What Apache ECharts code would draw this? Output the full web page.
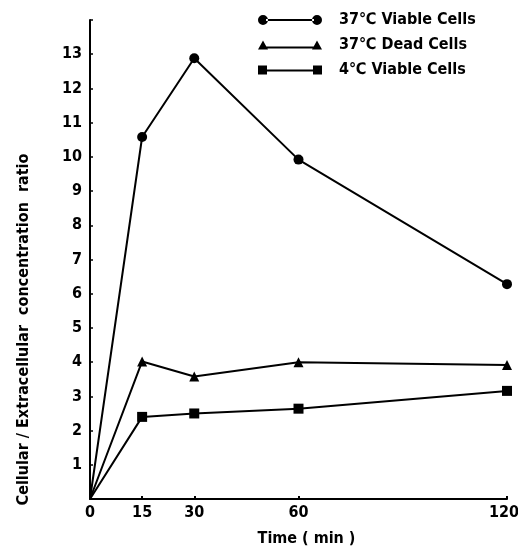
<!DOCTYPE html>
<html>
<head>
<meta charset="utf-8">
<script src="https://cdn.jsdelivr.net/npm/echarts@6/dist/echarts.min.js"></script>
<style>html,body{margin:0;padding:0;background:#fff}#c{width:518px;height:555px}</style>
</head>
<body>
<div id="c"></div>
<script>
var timePoints = [0, 15, 30, 60, 120];
var viable37 = [0, 10.58, 12.88, 9.92, 6.28];
var dead37 = [0, 4.02, 3.58, 4.0, 3.92];
var viable4 = [0, 2.40, 2.50, 2.64, 3.16];
var seriesNames = ['37\u2103 Viable Cells', '37\u2103 Dead Cells', '4\u2103 Viable Cells'];
var xTickValues = [0, 15, 30, 60, 120];
var yTickLabels = [1,2,3,4,5,6,7,8,9,10,11,12,13];

var FONT = "'Liberation Sans Narrow', 'DejaVu Sans Condensed', 'Liberation Sans', sans-serif";

var iconCircle = 'path://M0,5a5,5 0 1,0 10,0a5,5 0 1,0 -10,0Z M8,4L56,4L56,6L8,6Z M54,5a5,5 0 1,0 10,0a5,5 0 1,0 -10,0Z';
var iconTri = 'path://M0,10L5,1L10,10Z M8,7L56,7L56,9L8,9Z M54,10L59,1L64,10Z';
var iconSq = 'path://M0,1L9,1L9,10L0,10Z M8,5L56,5L56,7L8,7Z M55,1L64,1L64,10L55,10Z';

function build(vals) {
  return timePoints.map(function (t, i) {
    var d = { value: [t, vals[i]] };
    if (i === 0) d.symbol = 'none';
    return d;
  });
}

var chart = echarts.init(document.getElementById('c'));
chart.setOption({
  animation: false,
  backgroundColor: '#fff',
  textStyle: { fontFamily: FONT, fontWeight: 'bold', color: '#000' },
  grid: { left: 90, right: 11, top: 20, bottom: 56, outerBoundsMode: 'none' },
  legend: {
    orient: 'vertical',
    left: 253,
    top: 7,
    itemWidth: 64,
    itemHeight: 10,
    itemGap: 9,
    textStyle: { fontFamily: FONT, fontWeight: 'bold', fontSize: 16, color: '#000', padding: [0, 0, 0, 12] },
    data: [
      { name: seriesNames[0], icon: iconCircle },
      { name: seriesNames[1], icon: iconTri },
      { name: seriesNames[2], icon: iconSq }
    ],
    itemStyle: { color: '#000' },
    lineStyle: { opacity: 0 }
  },
  xAxis: {
    type: 'value',
    min: 0, max: 120,
    name: 'Time ( min )',
    nameLocation: 'middle',
    nameGap: 32,
    nameTextStyle: { fontFamily: FONT, fontWeight: 'bold', fontSize: 16, color: '#000', padding: [0, 0, 0, 16] },
    axisLine: { lineStyle: { color: '#000', width: 2 } },
    axisTick: { inside: true, length: 3, lineStyle: { color: '#000', width: 2 }, customValues: xTickValues },
    axisLabel: {
      customValues: xTickValues, fontFamily: FONT, fontWeight: 'bold', fontSize: 16, color: '#000', margin: 6,
      formatter: function (v) { return v === 120 ? '{r|120}' : String(v); },
      rich: { r: { fontFamily: FONT, fontWeight: 'bold', fontSize: 16, color: '#000', padding: [0, 6, 0, 0] } }
    },
    splitLine: { show: false }
  },
  yAxis: {
    type: 'value',
    min: 0, max: 14, interval: 1,
    name: 'Cellular / Extracellular  concentration  ratio',
    nameLocation: 'middle',
    nameGap: 58,
    nameTextStyle: { fontFamily: FONT, fontWeight: 'bold', fontSize: 16, color: '#000', padding: [0, 140, 0, 0] },
    axisLine: { lineStyle: { color: '#000', width: 2 } },
    axisTick: { inside: true, length: 3, lineStyle: { color: '#000', width: 1.5 } },
    axisLabel: {
      fontFamily: FONT, fontWeight: 'bold', fontSize: 16, color: '#000', margin: 8,
      formatter: function (v) { return yTickLabels.indexOf(v) >= 0 ? String(v) : ''; }
    },
    splitLine: { show: false }
  },
  series: [
    { name: seriesNames[0], type: 'line', data: build(viable37), symbol: 'circle', symbolSize: 10,
      lineStyle: { color: '#000', width: 2 }, itemStyle: { color: '#000' } },
    { name: seriesNames[1], type: 'line', data: build(dead37), symbol: 'triangle', symbolSize: 10,
      lineStyle: { color: '#000', width: 2 }, itemStyle: { color: '#000' } },
    { name: seriesNames[2], type: 'line', data: build(viable4), symbol: 'rect', symbolSize: 10,
      lineStyle: { color: '#000', width: 2 }, itemStyle: { color: '#000' } }
  ]
});
</script>
</body>
</html>
